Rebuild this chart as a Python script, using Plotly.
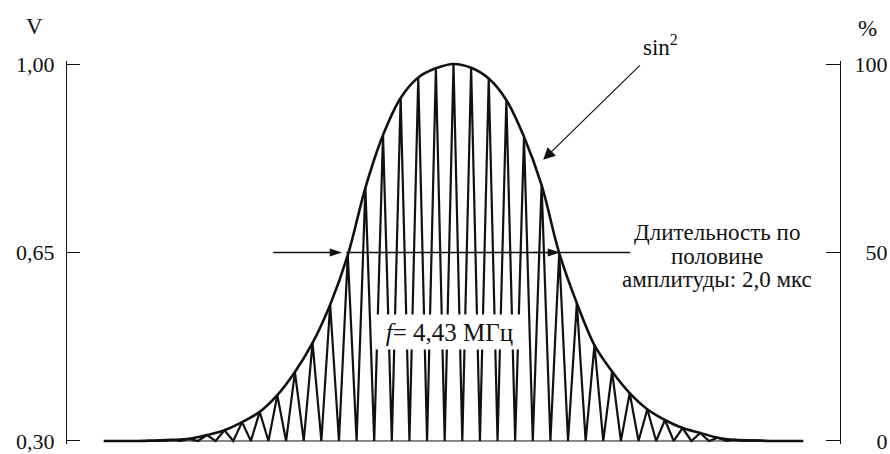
import plotly.graph_objects as go

# Carrier cycle index of each peak (4.43 MHz burst) and the peak level in volts
cycles = list(range(-19, 20))
peak_v = [0.300, 0.300, 0.301, 0.302, 0.304, 0.311, 0.320, 0.335, 0.354, 0.385,
          0.428, 0.482, 0.553, 0.645, 0.770, 0.868, 0.937, 0.975, 0.992,
          1.000,
          0.993, 0.973, 0.933, 0.865, 0.775, 0.649, 0.556, 0.478, 0.429, 0.389,
          0.359, 0.339, 0.324, 0.315, 0.306, 0.302, 0.301, 0.300, 0.300]

# Pulse window (in carrier cycles) and levels
t_start, t_end = -19.85, 19.85
v_base, v_top = 0.30, 1.00
half_level = 0.65

# Axis ticks
v_ticks = [0.30, 0.65, 1.00]
v_tick_labels = ["0,30", "0,65", "1,00"]
pct_ticks = [0, 50, 100]
pct_tick_labels = ["\u2007\u20070", "\u200750", "100"]

# Note on the half-amplitude duration, one entry per line
note_lines = ["Длительность по", "половине", "амплитуды: 2,0 мкс"]
note_line_v = [0.688, 0.643, 0.599]

# Half-amplitude pointers (tail, tip) in carrier cycles
left_pointer = (-10.23, -6.32)
right_pointer = (4.5, 6.05)
span_line = (-6.09, 10.03)

INK = "#111111"
FONT = "Liberation Serif"
FS = 23
FS_TICK = 22

# Carrier zig-zag: valley at the base level between consecutive peaks
x_zig, y_zig = [], []
for k, v in zip(cycles, peak_v):
    x_zig += [k - 0.5, k]
    y_zig += [v_base, v]
x_zig.append(cycles[-1] + 0.5)
y_zig.append(v_base)

fig = go.Figure()

# Baseline (0 %)
fig.add_trace(go.Scatter(
    x=[t_start, t_end], y=[0, 0], yaxis="y2", mode="lines",
    line=dict(color=INK, width=1), hoverinfo="skip", showlegend=False))

# Carrier
fig.add_trace(go.Scatter(
    x=x_zig, y=y_zig, mode="lines",
    line=dict(color=INK, width=2.2), hoverinfo="skip", showlegend=False))

# sin^2 envelope through the carrier peaks
fig.add_trace(go.Scatter(
    x=[t_start] + cycles + [t_end], y=[v_base] + peak_v + [v_base],
    mode="lines", line=dict(color=INK, width=2.6, shape="spline", smoothing=1.0),
    hoverinfo="skip", showlegend=False))

# Half-amplitude span line and its two pointers
fig.add_trace(go.Scatter(
    x=list(span_line), y=[half_level, half_level], mode="lines",
    line=dict(color=INK, width=1.3), hoverinfo="skip", showlegend=False))
for tail, tip in (left_pointer, right_pointer):
    fig.add_trace(go.Scatter(
        x=[tail, tip], y=[half_level, half_level], mode="lines+markers",
        line=dict(color=INK, width=1.3),
        marker=dict(symbol="arrow", size=13, angleref="previous", color=INK,
                    line=dict(width=0)),
        hoverinfo="skip", showlegend=False))

v_pad = 0.0056
v_range = [v_base - v_pad, v_top + v_pad]
pct_range = [(r - v_base) / (v_top - v_base) * 100 for r in v_range]

tickfont = dict(family=FONT, size=FS_TICK, color=INK)
fig.update_layout(
    width=890, height=454,
    margin=dict(l=67, r=50, t=61, b=10, pad=0, autoexpand=False),
    paper_bgcolor="white", plot_bgcolor="white",
    font=dict(family=FONT, size=FS, color=INK),
    xaxis=dict(visible=False, range=[-21.935, 21.935], fixedrange=True,
               automargin=False),
    yaxis=dict(
        range=v_range, tickvals=v_ticks, ticktext=v_tick_labels,
        showline=True, linecolor=INK, linewidth=1.3,
        ticks="inside", ticklen=13, tickwidth=1.3, tickcolor=INK,
        showgrid=False, zeroline=False, ticklabelstandoff=7,
        tickfont=tickfont, fixedrange=True, automargin=False),
    yaxis2=dict(
        range=pct_range, overlaying="y", side="right", anchor="x",
        tickvals=pct_ticks, ticktext=pct_tick_labels,
        showline=True, linecolor=INK, linewidth=1.3,
        ticks="inside", ticklen=14, tickwidth=1.3, tickcolor=INK,
        showgrid=False, zeroline=False, ticklabelstandoff=9,
        tickfont=tickfont, fixedrange=True, automargin=False),
)

# sin^2 label with its pointer to the envelope
fig.add_annotation(x=5.09, y=0.822, ax=11.75, ay=1.035, axref="x", ayref="y",
                   text="sin<sup>2</sup>", showarrow=True, arrowcolor=INK,
                   arrowwidth=1.2, arrowhead=2, arrowsize=2.0, startstandoff=6,
                   font=dict(family=FONT, size=FS, color=INK))

for line_text, line_v in zip(note_lines, note_line_v):
    fig.add_annotation(x=14.97, y=line_v, text=line_text, showarrow=False,
                       xanchor="center", yanchor="middle",
                       font=dict(family=FONT, size=FS, color=INK))

fig.add_annotation(x=-0.25, y=0.502, text="<i>f</i>= 4,43 МГц", showarrow=False,
                   xanchor="center", yanchor="middle", bgcolor="white",
                   width=145, height=32, borderpad=1,
                   font=dict(family=FONT, size=25, color=INK))

fig.add_annotation(x=-0.0414, y=1.091, xref="paper", yref="paper", text="V",
                   showarrow=False, xanchor="center", yanchor="middle",
                   font=dict(family=FONT, size=FS, color=INK))
fig.add_annotation(x=1.036, y=1.086, xref="paper", yref="paper", text="%",
                   showarrow=False, xanchor="center", yanchor="middle",
                   font=dict(family=FONT, size=FS, color=INK))

fig.write_html("out.html", config={"displayModeBar": False})
